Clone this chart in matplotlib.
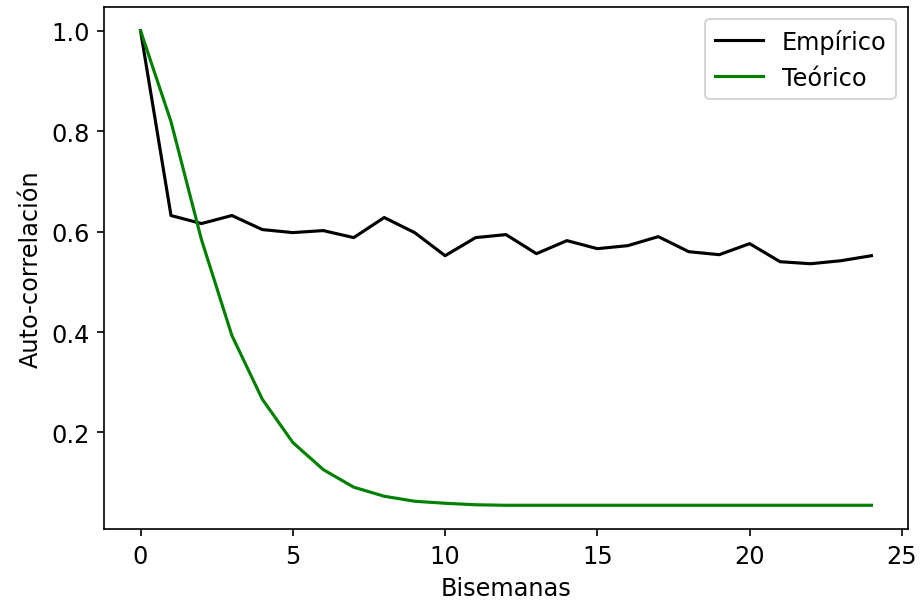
import matplotlib
matplotlib.use("Agg")
import matplotlib.pyplot as plt

lags = list(range(25))
empirico = [1.0, 0.632, 0.616, 0.632, 0.604, 0.598, 0.602, 0.588, 0.628, 0.598,
            0.552, 0.588, 0.594, 0.556, 0.582, 0.566, 0.572, 0.590, 0.560, 0.554,
            0.576, 0.540, 0.536, 0.542, 0.552]
teorico = [1.0, 0.819, 0.584, 0.393, 0.266, 0.180, 0.126, 0.091, 0.073, 0.063,
           0.059, 0.056, 0.055, 0.055, 0.055, 0.055, 0.055, 0.055, 0.055, 0.055,
           0.055, 0.055, 0.055, 0.055, 0.055]

plt.rcParams["font.size"] = 11.5
fig = plt.figure(figsize=(922/150, 609/150), dpi=150)
ax = fig.add_axes([104/922, 1-530/609, (908-104)/922, (530-8)/609])
ax.plot(lags, empirico, color="black", label="Empírico")
ax.plot(lags, teorico, color="green", label="Teórico")
ax.set_xlabel("Bisemanas")
ax.set_ylabel("Auto-correlación")
ax.set_yticks([0.2, 0.4, 0.6, 0.8, 1.0])
ax.legend(loc="upper right")
fig.savefig("out.png", dpi=150)
